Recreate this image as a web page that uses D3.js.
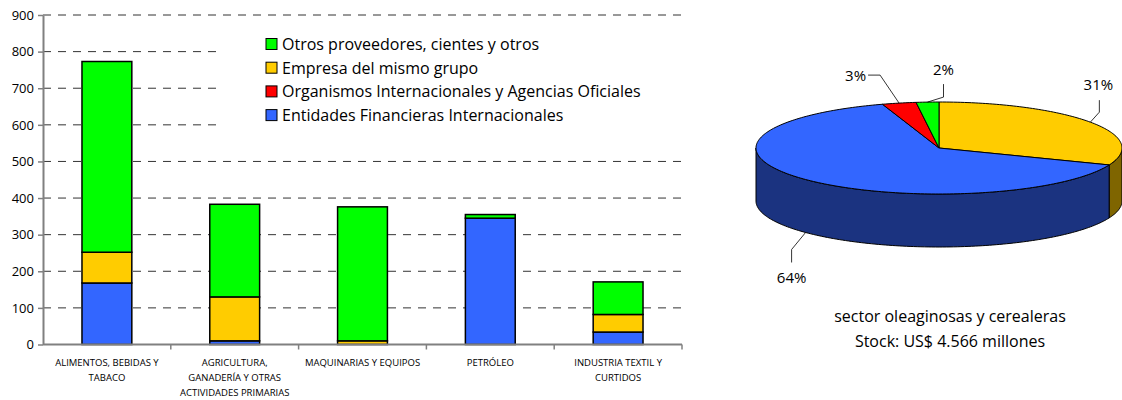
<!DOCTYPE html>
<html>
<head>
<meta charset="utf-8">
<script src="https://cdn.jsdelivr.net/npm/d3@7"></script>
<style>
  body { margin: 0; background: #fff; }
  text { font-family: "Open Sans", sans-serif; fill: #000; }
</style>
</head>
<body>
<svg id="chart" width="1122" height="400"></svg>
<script>
// categories of the bar chart (lines split with \n)
var categories = ["ALIMENTOS, BEBIDAS Y\nTABACO",
                  "AGRICULTURA,\nGANADERÍA Y OTRAS\nACTIVIDADES PRIMARIAS",
                  "MAQUINARIAS Y EQUIPOS",
                  "PETRÓLEO",
                  "INDUSTRIA TEXTIL Y\nCURTIDOS"];

// stacked series, bottom to top
var entidades  = [168, 10, 0, 345, 34];
var organismos = [0, 0, 0, 0, 0];
var empresa    = [84, 120, 10, 0, 48];
var otros      = [521, 253, 366, 10, 89];

var seriesKeys  = ["entidades", "organismos", "empresa", "otros"];
var seriesNames = ["Entidades Financieras Internacionales",
                   "Organismos Internacionales y Agencias Oficiales",
                   "Empresa del mismo grupo",
                   "Otros proveedores, cientes y otros"];
var seriesColors = ["#3366ff", "#ff0000", "#ffcc00", "#00ff00"];

var yTicks = [0, 100, 200, 300, 400, 500, 600, 700, 800, 900];

// pie: sector oleaginosas y cerealeras (clockwise from 12 o'clock)
var pieValues = [31, 64, 3, 2];
var pieLabels = ["31%", "64%", "3%", "2%"];
var pieColors = ["#ffcc00", "#3366ff", "#ff0000", "#00ff00"];
var pieSides  = ["#7f6500", "#1b3380", "#800000", "#008000"];
var pieTitle  = ["sector oleaginosas y cerealeras", "Stock: US$ 4.566 millones"];

var svg = d3.select("#chart");

// ---------- bar chart ----------
var plotLeft = 43, plotRight = 682, plotTop = 15, plotBottom = 344.5;

var table = categories.map(function(c, i) {
  return {cat: c, entidades: entidades[i], organismos: organismos[i], empresa: empresa[i], otros: otros[i]};
});

var x = d3.scaleBand()
    .domain(categories)
    .range([plotLeft, plotRight])
    .paddingInner(0.61)
    .paddingOuter(0.305);

var y = d3.scaleLinear()
    .domain([0, 900])
    .range([plotBottom, plotTop]);

// dashed gridlines
svg.append("g")
  .selectAll("line")
  .data(yTicks.slice(1))
  .enter().append("line")
    .attr("x1", plotLeft)
    .attr("x2", plotRight)
    .attr("y1", function(d) { return y(d); })
    .attr("y2", function(d) { return y(d); })
    .attr("stroke", "#333")
    .attr("stroke-width", 1)
    .attr("stroke-dasharray", "8,7");

// y axis
var yAxis = svg.append("g")
    .attr("transform", "translate(" + plotLeft + ",0)")
    .call(d3.axisLeft(y).tickValues(yTicks).tickSize(5).tickSizeOuter(0).tickPadding(4));
yAxis.select(".domain").attr("stroke", "#808080").attr("stroke-width", 2);
yAxis.selectAll(".tick line").attr("stroke", "#808080").attr("stroke-width", 1.5);
yAxis.selectAll(".tick text").style("font-size", "13px").attr("fill", "#000");

// stacked bars
var stack = d3.stack().keys(seriesKeys);
var layers = stack(table);

svg.append("g")
  .selectAll("g")
  .data(layers)
  .enter().append("g")
    .attr("fill", function(d, i) { return seriesColors[i]; })
  .selectAll("rect")
  .data(function(d) { return d.filter(function(p) { return p[1] - p[0] > 0; }); })
  .enter().append("rect")
    .attr("x", function(d) { return x(d.data.cat); })
    .attr("width", x.bandwidth())
    .attr("y", function(d) { return y(d[1]); })
    .attr("height", function(d) { return y(d[0]) - y(d[1]); })
    .attr("stroke", "#000")
    .attr("stroke-width", 1.5);

// x axis line and category ticks
var xAxis = svg.append("g");
xAxis.append("line")
    .attr("x1", plotLeft).attr("x2", plotRight)
    .attr("y1", plotBottom).attr("y2", plotBottom)
    .attr("stroke", "#808080").attr("stroke-width", 2);
xAxis.selectAll(".ctick")
  .data(categories)
  .enter().append("line")
    .attr("class", "ctick")
    .attr("x1", function(d) { return x(d) + x.bandwidth() / 2 + x.step() / 2; })
    .attr("x2", function(d) { return x(d) + x.bandwidth() / 2 + x.step() / 2; })
    .attr("y1", plotBottom).attr("y2", plotBottom + 5)
    .attr("stroke", "#808080").attr("stroke-width", 1.5);

xAxis.selectAll(".clabel")
  .data(categories)
  .enter().append("text")
    .attr("class", "clabel")
    .attr("text-anchor", "middle")
    .style("font-size", "9.5px")
    .attr("transform", function(d) { return "translate(" + (x(d) + x.bandwidth() / 2) + ",0)"; })
  .selectAll("tspan")
  .data(function(d) { return d.split("\n"); })
  .enter().append("tspan")
    .attr("x", 0)
    .attr("y", function(d, i) { return 366 + i * 15; })
    .text(function(d) { return d; });

// legend (white box hides the gridlines behind it)
svg.append("rect")
    .attr("x", 221).attr("y", 30).attr("width", 470).attr("height", 108)
    .attr("fill", "#fff");

var legendOrder = [3, 2, 1, 0];
var legend = svg.append("g")
  .selectAll("g")
  .data(legendOrder)
  .enter().append("g")
    .attr("transform", function(d, i) { return "translate(266," + (44.5 + i * 23.7) + ")"; });
legend.append("rect")
    .attr("x", 0).attr("y", -6).attr("width", 11).attr("height", 11)
    .attr("fill", function(d) { return seriesColors[d]; })
    .attr("stroke", "#000").attr("stroke-width", 1);
legend.append("text")
    .attr("x", 16).attr("y", 5.5)
    .style("font-size", "16px")
    .text(function(d) { return seriesNames[d]; });

// ---------- 3D pie ----------
var cx = 939, cy = 148, rx = 183, ry = 46, depth = 53;
function px(a) { return cx + rx * Math.sin(a); }
function py(a) { return cy - ry * Math.cos(a); }

var arcs = d3.pie().sort(null)(pieValues);

function sample(a0, a1) {
  var n = Math.max(2, Math.ceil((a1 - a0) / 0.02));
  return d3.range(n + 1).map(function(i) { return a0 + (a1 - a0) * i / n; });
}

var line = d3.line();
var pieG = svg.append("g");

// outer walls (front half only)
pieG.selectAll(".wall")
  .data(arcs)
  .enter().append("path")
    .attr("class", "wall")
    .attr("d", function(d) {
      var s = Math.max(d.startAngle, Math.PI / 2), e = Math.min(d.endAngle, 3 * Math.PI / 2);
      if (s >= e) return null;
      var a = sample(s, e);
      var topPts = a.map(function(t) { return [px(t), py(t)]; });
      var botPts = a.slice().reverse().map(function(t) { return [px(t), py(t) + depth]; });
      return line(topPts.concat(botPts)) + "Z";
    })
    .attr("fill", function(d, i) { return pieSides[i]; })
    .attr("stroke", "#000")
    .attr("stroke-width", 1);

// top faces
pieG.selectAll(".face")
  .data(arcs)
  .enter().append("path")
    .attr("class", "face")
    .attr("d", function(d) {
      var pts = sample(d.startAngle, d.endAngle).map(function(t) { return [px(t), py(t)]; });
      return line([[cx, cy]].concat(pts)) + "Z";
    })
    .attr("fill", function(d, i) { return pieColors[i]; })
    .attr("stroke", "#000")
    .attr("stroke-width", 1);

// labels with leader lines, anchored at the slice's mid angle
var labelLayout = [
  {elbow: [9, -10], end: [9, -22], text: [8, -32], anchor: "middle"},
  {elbow: [-14, 17], end: [-14, 30], text: [-14, 51], anchor: "middle"},
  {elbow: [-19, -28], end: [-31, -28], text: [-33, -22], anchor: "end"},
  {elbow: [16, -5], end: [16, -18], text: [16, -27], anchor: "middle"}
];

arcs.forEach(function(d, i) {
  var m = (d.startAngle + d.endAngle) / 2;
  var ax = px(m), ay = py(m);
  if (Math.cos(m) < 0) ay += depth;   // front slices: leader starts at the bottom rim
  var L = labelLayout[i];
  pieG.append("path")
      .attr("d", line([[ax, ay], [ax + L.elbow[0], ay + L.elbow[1]], [ax + L.end[0], ay + L.end[1]]]))
      .attr("fill", "none")
      .attr("stroke", "#000")
      .attr("stroke-width", 0.8);
  pieG.append("text")
      .attr("x", ax + L.text[0])
      .attr("y", ay + L.text[1])
      .attr("text-anchor", L.anchor)
      .style("font-size", "15px")
      .text(pieLabels[i]);
});

svg.append("g")
  .selectAll("text")
  .data(pieTitle)
  .enter().append("text")
    .attr("x", 950)
    .attr("y", function(d, i) { return 322 + i * 24.5; })
    .attr("text-anchor", "middle")
    .style("font-size", "16px")
    .text(function(d) { return d; });
</script>
</body>
</html>
